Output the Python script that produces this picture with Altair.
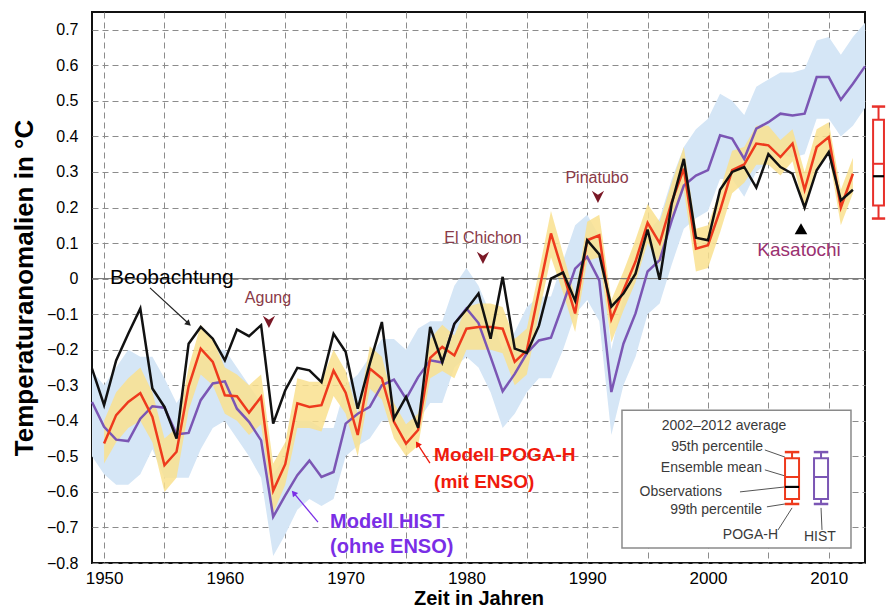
import altair as alt
import pandas as pd

# ---------------- data ----------------
years_obs = list(range(1949, 2013))
obs = [-0.253, -0.356, -0.23, -0.155, -0.084, -0.309, -0.361, -0.45, -0.183, -0.136,
       -0.169, -0.23, -0.143, -0.162, -0.131, -0.408, -0.314, -0.251, -0.258, -0.291,
       -0.155, -0.206, -0.366, -0.239, -0.122, -0.394, -0.333, -0.42, -0.136, -0.235,
       -0.127, -0.087, -0.042, -0.169, 0.005, -0.197, -0.209, -0.133, 0.0, 0.017,
       -0.062, 0.108, 0.068, -0.079, -0.042, 0.014, 0.138, -0.003, 0.211, 0.337,
       0.115, 0.108, 0.25, 0.30, 0.314, 0.256, 0.35, 0.314, 0.295, 0.2,
       0.305, 0.356, 0.22, 0.25]

years_poga = list(range(1950, 2013))
poga = [-0.464, -0.384, -0.347, -0.322, -0.389, -0.525, -0.487, -0.303, -0.197, -0.234,
        -0.328, -0.331, -0.377, -0.333, -0.597, -0.522, -0.351, -0.361, -0.356, -0.259,
        -0.321, -0.44, -0.253, -0.281, -0.403, -0.464, -0.426, -0.223, -0.192, -0.216,
        -0.141, -0.136, -0.136, -0.141, -0.234, -0.202, -0.036, 0.127, 0.016, -0.098,
        0.108, 0.122, -0.114, -0.033, 0.048, 0.157, 0.10, 0.216, 0.309, 0.084,
        0.094, 0.192, 0.305, 0.321, 0.38, 0.375, 0.342, 0.38, 0.25, 0.37,
        0.398, 0.20, 0.295]
poga_lo = [-0.52, -0.46, -0.42, -0.40, -0.46, -0.60, -0.56, -0.37, -0.27, -0.30,
           -0.38, -0.40, -0.44, -0.41, -0.66, -0.58, -0.42, -0.42, -0.43, -0.33,
           -0.38, -0.50, -0.31, -0.34, -0.45, -0.50, -0.47, -0.28, -0.26, -0.28,
           -0.20, -0.20, -0.20, -0.21, -0.30, -0.27, -0.10, 0.06, -0.04, -0.15,
           0.05, 0.06, -0.18, -0.09, -0.01, 0.10, 0.04, 0.16, 0.25, 0.02,
           0.03, 0.13, 0.24, 0.27, 0.32, 0.32, 0.29, 0.33, 0.19, 0.31,
           0.35, 0.15, 0.24]
poga_hi = [-0.40, -0.32, -0.28, -0.25, -0.32, -0.45, -0.42, -0.25, -0.13, -0.17,
           -0.25, -0.27, -0.30, -0.27, -0.52, -0.46, -0.28, -0.29, -0.29, -0.20,
           -0.26, -0.38, -0.19, -0.22, -0.35, -0.41, -0.38, -0.17, -0.13, -0.16,
           -0.08, -0.07, -0.07, -0.08, -0.17, -0.14, 0.02, 0.19, 0.07, -0.05,
           0.16, 0.18, -0.06, 0.02, 0.11, 0.21, 0.16, 0.27, 0.37, 0.14,
           0.15, 0.25, 0.36, 0.37, 0.43, 0.43, 0.39, 0.42, 0.30, 0.42,
           0.44, 0.25, 0.34]

years_hist = list(range(1949, 2014))
hist = [-0.347, -0.417, -0.453, -0.457, -0.394, -0.359, -0.363, -0.438, -0.434, -0.342,
        -0.295, -0.289, -0.366, -0.403, -0.455, -0.67, -0.61, -0.553, -0.512, -0.558,
        -0.544, -0.408, -0.38, -0.361, -0.3, -0.284, -0.338, -0.277, -0.23, -0.236,
        -0.127, -0.084, -0.125, -0.22, -0.317, -0.268, -0.21, -0.174, -0.166, -0.072,
        0.028, 0.061, -0.005, -0.319, -0.183, -0.098, 0.02, 0.052, 0.164, 0.262,
        0.29, 0.305, 0.403, 0.394, 0.337, 0.422, 0.44, 0.464, 0.459, 0.464,
        0.567, 0.567, 0.503, 0.548, 0.597]
hist_lo = [-0.50, -0.55, -0.58, -0.58, -0.55, -0.48, -0.56, -0.56, -0.56, -0.48,
           -0.42, -0.40, -0.45, -0.50, -0.56, -0.78, -0.72, -0.65, -0.62, -0.64,
           -0.62, -0.50, -0.47, -0.45, -0.40, -0.40, -0.45, -0.40, -0.35, -0.35,
           -0.25, -0.22, -0.25, -0.32, -0.42, -0.38, -0.32, -0.28, -0.28, -0.20,
           -0.10, -0.06, -0.12, -0.44, -0.30, -0.22, -0.10, -0.07, 0.04, 0.14,
           0.17, 0.19, 0.28, 0.28, 0.23, 0.30, 0.33, 0.35, 0.34, 0.35,
           0.45, 0.45, 0.40, 0.43, 0.48]
hist_hi = [-0.26, -0.30, -0.25, -0.20, -0.22, -0.22, -0.28, -0.35, -0.30, -0.22,
           -0.20, -0.20, -0.25, -0.30, -0.35, -0.55, -0.50, -0.40, -0.40, -0.42,
           -0.42, -0.30, -0.27, -0.22, -0.17, -0.17, -0.20, -0.14, -0.12, -0.12,
           -0.02, 0.03, -0.02, -0.10, -0.20, -0.15, -0.08, -0.05, -0.05, 0.05,
           0.15, 0.18, 0.12, -0.20, -0.05, 0.02, 0.13, 0.17, 0.28, 0.37,
           0.42, 0.45, 0.52, 0.50, 0.46, 0.54, 0.56, 0.58, 0.58, 0.59,
           0.67, 0.68, 0.63, 0.68, 0.72]

# 2002-2012 averages (box plots right of the frame)
box_names = ["POGA-H", "HIST"]
box_whisker_lo = [0.169, 0.225]
box_lo = [0.206, 0.281]
box_mean = [0.323, 0.464]
box_hi = [0.447, 0.651]
box_whisker_hi = [0.484, 0.712]
obs_avg_2002_2012 = 0.288

volcano_names = ["Agung", "El Chichon", "Pinatubo"]
x_ticks = list(range(1950, 2011, 5))
y_ticks = [round(-0.8 + 0.1 * i, 1) for i in range(16)]

# ---------------- styling ----------------
FONT = "Liberation Sans"
C_OBS = "#111111"
C_POGA = "#ee3a1d"
C_HIST = "#7b56b4"
C_YEL = "#f9e08e"
C_BLUE = "#d5e6f6"
C_VOLC = "#8a3a48"
C_VOLC_TRI = "#7a1826"

XS = alt.Scale(domain=[1949, 2013], nice=False, zero=False)
YS = alt.Scale(domain=[-0.8, 0.75], nice=False, zero=False)

X_AXIS = alt.Axis(values=x_ticks, format="d",
                  labelExpr="datum.value % 10 == 0 ? datum.label : ''",
                  grid=True, gridDash=[6, 4], gridColor="#8c8c8c", gridWidth=1,
                  ticks=False, tickSize=0, domain=False,
                  labelFont=FONT, labelFontSize=17, labelColor="black", labelPadding=7,
                  title="Zeit in Jahren", titleFont=FONT, titleFontSize=20,
                  titleFontWeight="bold", titleColor="black", titlePadding=2)
Y_AXIS = alt.Axis(values=y_ticks,
                  labelExpr="datum.value == 0 ? '0' : format(datum.value, '.1f')",
                  grid=True, gridDash=[6, 4], gridColor="#8c8c8c", gridWidth=1,
                  ticks=False, tickSize=0, domain=False,
                  labelFont=FONT, labelFontSize=16, labelColor="black", labelPadding=14,
                  title="Temperaturanomalien in °C", titleFont=FONT, titleFontSize=26,
                  titleFontWeight="bold", titleColor="black", titlePadding=9)


def X(f):
    return alt.X(f, scale=XS, axis=X_AXIS)


def Y(f):
    return alt.Y(f, scale=YS, axis=Y_AXIS)


df_obs = pd.DataFrame({"year": years_obs, "v": obs})
df_poga = pd.DataFrame({"year": years_poga, "v": poga, "lo": poga_lo, "hi": poga_hi})
df_hist = pd.DataFrame({"year": years_hist, "v": hist, "lo": hist_lo, "hi": hist_hi})

blue_band = alt.Chart(df_hist).mark_area(color=C_BLUE, opacity=1).encode(
    x=X("year:Q"), y=Y("lo:Q"), y2="hi:Q")
yellow_band = alt.Chart(df_poga).mark_area(color=C_YEL, opacity=0.85).encode(
    x=X("year:Q"), y=Y("lo:Q"), y2="hi:Q")

zero_line = alt.Chart(pd.DataFrame({"a": [1949], "b": [2013], "z": [0.0]})).mark_rule(
    color="#6e6e6e", strokeWidth=1).encode(x=X("a:Q"), x2="b:Q", y=Y("z:Q"))

line_hist = alt.Chart(df_hist).mark_line(color=C_HIST, strokeWidth=2.5).encode(
    x=X("year:Q"), y=Y("v:Q"))
line_poga = alt.Chart(df_poga).mark_line(color=C_POGA, strokeWidth=2.5).encode(
    x=X("year:Q"), y=Y("v:Q"))
line_obs = alt.Chart(df_obs).mark_line(color=C_OBS, strokeWidth=2.5).encode(
    x=X("year:Q"), y=Y("v:Q"))


def text_layer(xs, ys, texts, **mk):
    d = pd.DataFrame({"x": xs, "y": ys, "t": texts})
    return alt.Chart(d).mark_text(font=FONT, **mk).encode(
        x=X("x:Q"), y=Y("y:Q"), text="t:N")


def point_layer(xs, ys, **mk):
    d = pd.DataFrame({"x": xs, "y": ys})
    return alt.Chart(d).mark_point(filled=True, opacity=1, **mk).encode(
        x=X("x:Q"), y=Y("y:Q"))


def seg_layer(x1, y1, x2, y2, **mk):
    d = pd.DataFrame({"x1": x1, "y1": y1, "x2": x2, "y2": y2})
    return alt.Chart(d).mark_rule(**mk).encode(
        x=X("x1:Q"), y=Y("y1:Q"), x2="x2:Q", y2="y2:Q")


ARROW_DOWN = "M-1,-1L0,-0.35L1,-1L0,1Z"

annotations = [
    text_layer([1950.49], [0.002], ["Beobachtung"], fontSize=21, align="left",
               baseline="middle", color="black"),
    seg_layer([1953.8], [-0.026], [1956.95], [-0.125], color="#222222", strokeWidth=1.2),
    point_layer([1957.0], [-0.127], shape="triangle-right", angle=42, size=45, color="#222222"),
    text_layer([1963.57, 1981.37, 1990.81], [-0.055, 0.114, 0.283], volcano_names,
               fontSize=16, align="center", baseline="middle", color=C_VOLC),
    point_layer([1963.65, 1981.37, 1990.89], [-0.122, 0.058, 0.230], shape=ARROW_DOWN,
                size=150, color=C_VOLC_TRI),
    text_layer([2007.54], [0.080], ["Kasatochi"], fontSize=19, align="center",
               baseline="middle", color="#9a3170"),
    point_layer([2007.70], [0.140], shape="triangle-up", size=160, color="black"),
    text_layer([1977.32, 1977.32], [-0.496, -0.572], ["Modell POGA-H", "(mit ENSO)"],
               fontSize=19, fontWeight="bold", align="left", baseline="middle", color="#f01a0c"),
    seg_layer([1976.98], [-0.519], [1976.0], [-0.468], color="#f01a0c", strokeWidth=1.3),
    point_layer([1975.95], [-0.465], shape="triangle-right", angle=237, size=45, color="#f01a0c"),
    text_layer([1968.71, 1968.71], [-0.685, -0.755], ["Modell HIST", "(ohne ENSO)"],
               fontSize=20, fontWeight="bold", align="left", baseline="middle", color="#7a2ee6"),
    seg_layer([1967.71], [-0.685], [1965.8], [-0.607], color="#7a2ee6", strokeWidth=1.3),
    point_layer([1965.7], [-0.603], shape="triangle-right", angle=230, size=45, color="#7a2ee6"),
]

# ---------------- inset legend ----------------
inset_bg = alt.Chart(pd.DataFrame({"a": [1992.88], "b": [2011.84], "c": [-0.758], "d": [-0.370]})
                     ).mark_rect(fill="white", stroke="#8a8a8a", strokeWidth=1.5).encode(
    x=X("a:Q"), x2="b:Q", y=Y("c:Q"), y2="d:Q")
INK = "#3a3a3a"
inset_texts = [
    text_layer([2001.33], [-0.415], ["2002–2012 average"], fontSize=14, align="center",
               baseline="middle", color=INK),
    text_layer([2004.56, 2004.47, 2001.16, 2004.47, 2005.80],
               [-0.474, -0.533, -0.600, -0.651, -0.721],
               ["95th percentile", "Ensemble mean", "Observations", "99th percentile", "POGA-H"],
               fontSize=14, align="right", baseline="middle", color=INK),
    text_layer([2009.27], [-0.727], ["HIST"], fontSize=14, align="center",
               baseline="middle", color=INK),
    seg_layer([2004.71, 2004.71, 2002.65, 2004.88, 2005.80, 2009.44],
              [-0.482, -0.538, -0.600, -0.642, -0.707, -0.707],
              [2006.37, 2006.37, 2006.37, 2006.37, 2006.96, 2009.36],
              [-0.502, -0.555, -0.586, -0.634, -0.645, -0.645],
              color="#555555", strokeWidth=1),
]


def box_layers(pos, half, cap, wlo, blo, med, bhi, whi, cols, obs_val=None):
    d = pd.DataFrame({"pos": pos, "half": half, "cap": cap, "wlo": wlo, "blo": blo,
                      "med": med, "bhi": bhi, "whi": whi, "col": cols})
    base = alt.Chart(d).transform_calculate(
        x1="datum.pos - datum.half", x2="datum.pos + datum.half",
        c1="datum.pos - datum.cap", c2="datum.pos + datum.cap")
    col = alt.Color("col:N", scale=None)
    layers = [
        base.mark_rule(strokeWidth=2).encode(x=X("pos:Q"), y=Y("bhi:Q"), y2="whi:Q", color=col),
        base.mark_rule(strokeWidth=2).encode(x=X("pos:Q"), y=Y("wlo:Q"), y2="blo:Q", color=col),
        base.mark_rule(strokeWidth=2.5).encode(x=X("c1:Q"), x2="c2:Q", y=Y("whi:Q"), color=col),
        base.mark_rule(strokeWidth=2.5).encode(x=X("c1:Q"), x2="c2:Q", y=Y("wlo:Q"), color=col),
        base.mark_rect(fill="white", strokeWidth=2).encode(
            x=X("x1:Q"), x2="x2:Q", y=Y("blo:Q"), y2="bhi:Q",
            stroke=alt.Stroke("col:N", scale=None)),
        base.mark_rule(strokeWidth=2).encode(x=X("x1:Q"), x2="x2:Q", y=Y("med:Q"), color=col),
    ]
    if obs_val is not None:
        od = pd.DataFrame({"a": [pos[0] - half[0]], "b": [pos[0] + half[0]], "v": [obs_val]})
        layers.append(alt.Chart(od).mark_rule(color="black", strokeWidth=2.2).encode(
            x=X("a:Q"), x2="b:Q", y=Y("v:Q")))
    return layers


inset_boxes = box_layers([2006.96, 2009.36], [0.58, 0.58], [0.6, 0.6],
                         [-0.634, -0.634], [-0.620, -0.620], [-0.558, -0.558],
                         [-0.505, -0.505], [-0.488, -0.488], [C_POGA, C_HIST], obs_val=-0.586)

right_boxes = box_layers([2014.12, 2015.82], [0.45, 0.6], [0.55, 0.8],
                         box_whisker_lo, box_lo, box_mean, box_hi, box_whisker_hi,
                         ["#e8302a", C_HIST], obs_val=obs_avg_2002_2012)

chart = alt.layer(
    blue_band, yellow_band, zero_line, line_hist, line_poga, line_obs,
    *annotations, inset_bg, *inset_texts, *inset_boxes, *right_boxes
).properties(
    width=773, height=551,
    autosize=alt.AutoSizeParams(type="none"),
    padding={"left": 84, "top": 4, "right": 22, "bottom": 44},
    background="white",
).configure_view(stroke="#111111", strokeWidth=2)

chart.save("out.html", embed_options={"renderer": "svg", "actions": False})
